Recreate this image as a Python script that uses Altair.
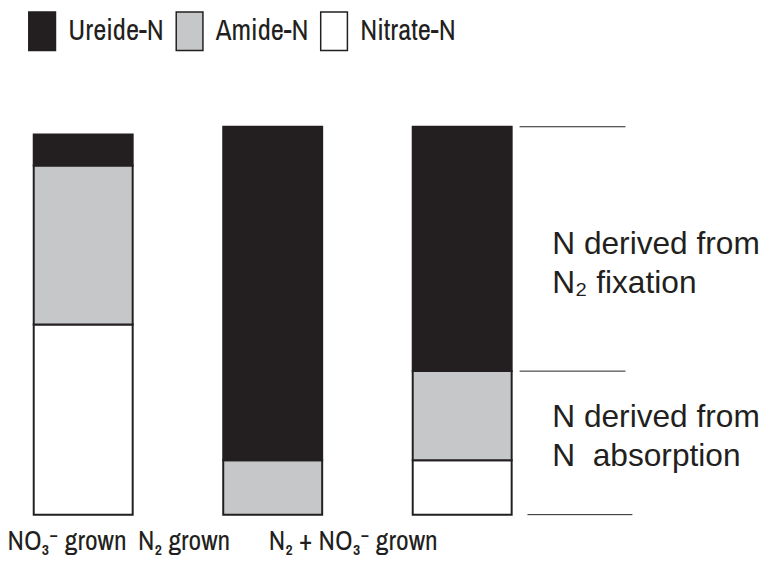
import altair as alt
import pandas as pd

# ---- data -------------------------------------------------------------
groups = ["NO₃⁻ grown", "N₂ grown", "N₂ + NO₃⁻ grown"]
components = ["Ureide-N", "Amide-N", "Nitrate-N"]
ureide = [8, 86, 63]
amide = [41, 14, 23]
nitrate = [49, 0, 14]
colors = ["#231f20", "#c6c7c8", "#ffffff"]

annot_text = ["N derived from\nN₂ fixation", "N derived from\nN\u00a0\u00a0absorption"]
annot_y = [67.3, 22.7]

label_offsets = [-76.5, -136, -195.5]

stack_order = {"Nitrate-N": 0, "Amide-N": 1, "Ureide-N": 2}
rows = []
for g, u, a, n in zip(groups, ureide, amide, nitrate):
    for comp, v in (("Nitrate-N", n), ("Amide-N", a), ("Ureide-N", u)):
        if v > 0:
            rows.append({"group": g, "component": comp, "value": v,
                         "order": stack_order[comp]})
df = pd.DataFrame(rows)

top_total = max(u + a + n for u, a, n in zip(ureide, amide, nitrate))
boundary = nitrate[2] + amide[2]

INK = "#231f20"
NARROW = "Archivo Narrow, Roboto Condensed, Liberation Sans, sans-serif"
REG = "Liberation Sans, Arial, sans-serif"

yscale = alt.Scale(domain=[0, 100])

bars = alt.Chart(df).mark_bar(stroke=INK, strokeWidth=2, strokeJoin="miter").encode(
    x=alt.X(
        "group:N", sort=groups,
        scale=alt.Scale(range=[26, 509], paddingInner=0.4778, paddingOuter=0, round=False),
        axis=alt.Axis(
            title=None, domain=False, ticks=False, tickSize=0, labelAngle=0,
            labelAlign="left", labelFont=NARROW, labelFontSize=28,
            labelColor=INK, labelPadding=13, labelLimit=400,
            labelOverlap=False, labelBound=False,
            labelOffset={
                "condition": [
                    {"test": f"datum.value === '{groups[0]}'", "value": label_offsets[0]},
                    {"test": f"datum.value === '{groups[1]}'", "value": label_offsets[1]},
                ],
                "value": label_offsets[2],
            },
        ),
    ),
    y=alt.Y("value:Q", stack="zero", scale=yscale, axis=None),
    fill=alt.Fill(
        "component:N",
        scale=alt.Scale(domain=components, range=colors),
        legend=alt.Legend(
            orient="none", legendX=14, legendY=-117, direction="horizontal",
            title=None, padding=0,
            symbolType="M-0.692,-1L0.692,-1L0.692,1L-0.692,1Z",
            symbolSize=1521, symbolStrokeColor=INK, symbolStrokeWidth=1.5,
            symbolOpacity=1,
            labelFont=NARROW, labelFontSize=29, labelColor=INK,
            labelOffset=6, columnPadding=5, labelLimit=400,
        ),
    ),
    order=alt.Order("order:Q"),
)

rule_top = alt.Chart(pd.DataFrame({"y": [top_total, boundary]})).mark_rule(
    color=INK, strokeWidth=1
).encode(y=alt.Y("y:Q", scale=yscale, axis=None), x=alt.value(517), x2=alt.value(624))

rule_bottom = alt.Chart(pd.DataFrame({"y": [0]})).mark_rule(
    color=INK, strokeWidth=1
).encode(y=alt.Y("y:Q", scale=yscale, axis=None), x=alt.value(525), x2=alt.value(631))

texts = alt.Chart(pd.DataFrame({"y": annot_y, "text": annot_text})).mark_text(
    align="left", baseline="alphabetic", font=REG, fontSize=32,
    lineHeight=40, lineBreak="\n", color=INK
).encode(x=alt.value(550), y=alt.Y("y:Q", scale=yscale, axis=None), text="text:N")

chart = alt.layer(bars, rule_top, rule_bottom, texts).properties(
    width=764, height=392,
    autosize=alt.AutoSizeParams(type="none"),
    padding={"left": 0, "top": 117, "right": 0, "bottom": 60},
).configure_view(stroke=None)

chart.save("out.html", embed_options={"renderer": "svg", "actions": False})
